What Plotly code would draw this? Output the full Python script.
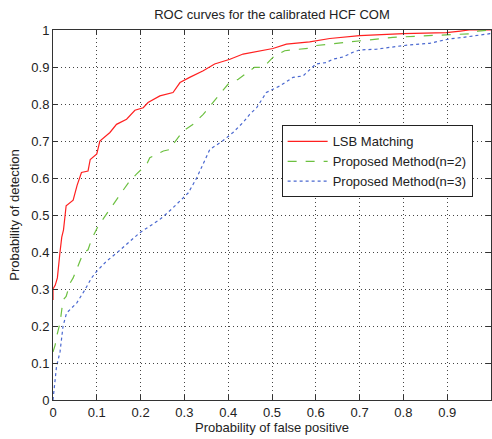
import plotly.graph_objects as go

# LSB Matching
lsb_x = [0, 0, 0.005, 0.01, 0.016, 0.02, 0.024, 0.027, 0.03, 0.046, 0.055, 0.065, 0.08, 0.085, 0.10, 0.107,
         0.13, 0.145, 0.168, 0.187, 0.206, 0.217, 0.244, 0.274, 0.29, 0.312, 0.343, 0.369, 0.404, 0.434,
         0.47, 0.502, 0.533, 0.586, 0.632, 0.70, 0.80, 0.898, 0.93, 0.95, 1.0]
lsb_y = [0.27, 0.30, 0.31, 0.33, 0.40, 0.44, 0.46, 0.50, 0.525, 0.54, 0.58, 0.615, 0.619, 0.65, 0.665, 0.70,
         0.723, 0.745, 0.759, 0.783, 0.79, 0.804, 0.822, 0.831, 0.858, 0.872, 0.89, 0.908, 0.921, 0.935,
         0.942, 0.95, 0.962, 0.968, 0.977, 0.985, 0.99, 0.993, 0.997, 1.0, 1.0]

# Proposed Method (n=2)
n2_x = [0, 0.005, 0.008, 0.016, 0.02, 0.023, 0.03, 0.039, 0.046, 0.054, 0.069, 0.08, 0.088, 0.103, 0.119,
        0.134, 0.153, 0.172, 0.19, 0.214, 0.221, 0.252, 0.267, 0.274, 0.297, 0.32, 0.343, 0.362, 0.381,
        0.40, 0.423, 0.445, 0.46, 0.48, 0.502, 0.529, 0.586, 0.60, 0.70, 0.776, 0.898, 0.96, 0.97, 1.0]
n2_y = [0.13, 0.149, 0.17, 0.208, 0.244, 0.27, 0.28, 0.316, 0.33, 0.352, 0.397, 0.406, 0.434, 0.47, 0.497,
        0.52, 0.552, 0.587, 0.61, 0.637, 0.655, 0.673, 0.677, 0.691, 0.727, 0.745, 0.772, 0.799, 0.826,
        0.854, 0.867, 0.885, 0.899, 0.899, 0.926, 0.944, 0.951, 0.958, 0.971, 0.98, 0.987, 0.99, 0.997, 1.0]

# Proposed Method (n=3)
n3_x = [0, 0.003, 0.008, 0.016, 0.023, 0.031, 0.054, 0.073, 0.088, 0.10, 0.122, 0.145, 0.168, 0.198, 0.221,
        0.244, 0.27, 0.29, 0.309, 0.328, 0.343, 0.358, 0.387, 0.411, 0.434, 0.449, 0.465, 0.487, 0.518,
        0.548, 0.571, 0.586, 0.60, 0.624, 0.639, 0.662, 0.685, 0.70, 0.738, 0.769, 0.80, 0.86, 0.89,
        0.905, 0.936, 0.966, 0.997, 1.0]
n3_y = [0.0, 0.04, 0.09, 0.13, 0.2, 0.235, 0.262, 0.298, 0.33, 0.348, 0.375, 0.397, 0.42, 0.452, 0.47,
        0.488, 0.515, 0.537, 0.56, 0.60, 0.637, 0.677, 0.70, 0.723, 0.75, 0.772, 0.79, 0.831, 0.849,
        0.872, 0.876, 0.894, 0.908, 0.912, 0.921, 0.927, 0.94, 0.946, 0.948, 0.953, 0.958, 0.964, 0.971,
        0.976, 0.98, 0.985, 0.99, 1.0]

tick_vals = [0, 0.1, 0.2, 0.3, 0.4, 0.5, 0.6, 0.7, 0.8, 0.9, 1]
tick_text = ["0", "0.1", "0.2", "0.3", "0.4", "0.5", "0.6", "0.7", "0.8", "0.9", "1"]

FONT = "Liberation Sans, Arial, sans-serif"
FS = 13

fig = go.Figure()
fig.add_trace(go.Scatter(x=lsb_x, y=lsb_y, mode="lines", name="LSB Matching",
                         line=dict(color="#ff2020", width=1.2)))
fig.add_trace(go.Scatter(x=n2_x, y=n2_y, mode="lines", name="Proposed Method(n=2)",
                         line=dict(color="#6cc040", width=1.2, dash="dash")))
fig.add_trace(go.Scatter(x=n3_x, y=n3_y, mode="lines", name="Proposed Method(n=3)",
                         line=dict(color="#4a68d0", width=1.2, dash="dot")))

axis_common = dict(
    range=[0, 1], tickvals=tick_vals, ticktext=tick_text,
    showline=True, linecolor="#333333", linewidth=1, mirror="ticks",
    ticks="inside", ticklen=5, tickcolor="#333333",
    showgrid=True, gridcolor="#444444", griddash="1px,3px", gridwidth=1,
    zeroline=False, tickfont=dict(family=FONT, size=FS, color="#222222"),
    automargin=False,
)

fig.update_layout(
    width=492, height=439,
    margin=dict(l=53, r=1, t=30, b=39),
    paper_bgcolor="white", plot_bgcolor="white",
    font=dict(family=FONT, size=FS, color="#222222"),
    title=dict(text="ROC curves for the calibrated HCF COM", x=272 / 492,
               xanchor="center", y=1 - 14 / 439, yanchor="middle",
               font=dict(family=FONT, size=FS, color="#222222")),
    xaxis=dict(axis_common, title=dict(text="Probability of false positive", standoff=2,
                                       font=dict(family=FONT, size=FS))),
    yaxis=dict(axis_common, title=dict(text="Probability of detection", standoff=8,
                                       font=dict(family=FONT, size=FS))),
    legend=dict(x=0.522, y=0.742, xanchor="left", yanchor="top",
                bgcolor="white", bordercolor="#222222", borderwidth=1,
                font=dict(family=FONT, size=FS, color="#222222"),
                tracegroupgap=0, itemwidth=40),
    showlegend=True,
)

fig.write_html("out.html", config={"displayModeBar": False},
               post_script="document.body.style.margin='0';document.body.style.overflow='hidden';")
